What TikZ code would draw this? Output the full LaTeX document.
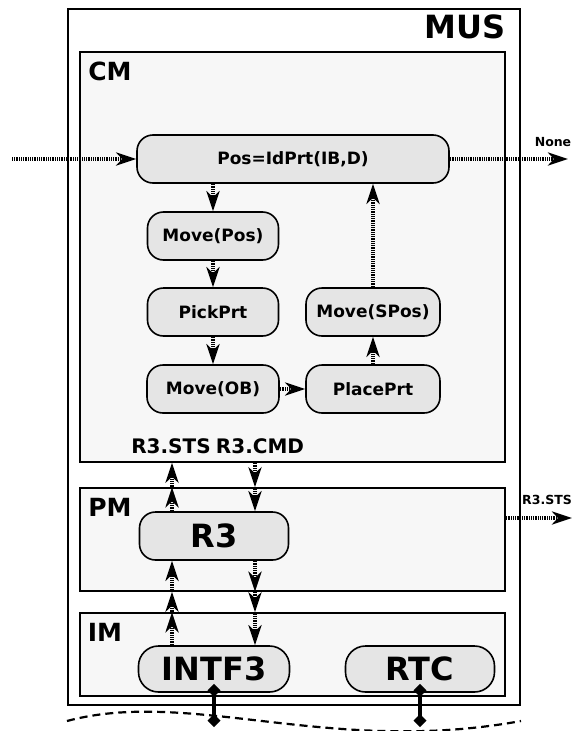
\documentclass[tikz,border=0pt]{standalone}
\usepackage{fontspec}
\setmainfont{DejaVu Sans}
\usetikzlibrary{arrows.meta,calc}
\begin{document}
\begin{tikzpicture}[x=1pt,y=-1pt,
  frame/.style={draw, line width=1.4pt, rectangle, inner sep=0pt, fill=black!3},
  proc/.style={draw, line width=1.6pt, fill=black!10, rounded corners=16pt, inner sep=0pt,
    minimum height=48pt, font=\fontsize{17}{17}\selectfont\bfseries},
  bigproc/.style={proc, rounded corners=20pt, minimum height=46pt, font=\fontsize{32}{32}\selectfont\bfseries},
  flow/.style={line width=4pt, dash pattern=on 1pt off 0.8pt,
    -{Stealth[length=20pt,width=13pt,inset=6pt]}},
  link/.style={line width=3.5pt, {Diamond[length=13pt,width=13pt]}-{Diamond[length=13pt,width=13pt]}},
  title/.style={inner sep=0pt, font=\fontsize{#1}{#1}\selectfont\bfseries},
]
\useasboundingbox (0,0) rectangle (574,731);

% frames
\node[frame, fill=white, minimum width=452pt, minimum height=696pt] (MUS) at (294,357) {};
\node[frame, minimum width=425pt, minimum height=410pt] (CM) at (292.5,257) {};
\node[frame, minimum width=425pt, minimum height=103pt] (PM) at (292.5,539.5) {};
\node[frame, minimum width=425pt, minimum height=83pt] (IM) at (292.5,654.5) {};

\node[title=32] (musl) at (465,27) {MUS};
\node[title=25] (cml) at (110,71) {CM};
\node[title=25] (pml) at (110,507) {PM};
\node[title=25] (iml) at (105,632) {IM};

% processes
\node[proc, minimum width=312pt] (pos) at (293,159) {Pos=IdPrt(IB,D)};
\node[proc, minimum width=131pt] (mpos) at (213,236) {Move(Pos)};
\node[proc, minimum width=131pt] (pick) at (213,312) {PickPrt};
\node[proc, minimum width=132pt] (mob) at (213,389) {Move(OB)};
\node[proc, minimum width=134pt] (place) at (373,389) {PlacePrt};
\node[proc, minimum width=134pt] (mspos) at (373,312) {Move(SPos)};
\node[bigproc, minimum width=149pt, minimum height=48pt, rounded corners=16pt] (r3) at (214,536) {R3};
\node[bigproc, minimum width=151pt] (intf) at (214,669) {INTF3};
\node[bigproc, minimum width=149pt] (rtc) at (420,669) {RTC};

% labels
\node[title=20] (stsl) at (171,446) {R3.STS};
\node[title=20] (cmdl) at (260,446) {R3.CMD};
\node[title=12.5] (nonel) at (553,142) {None};
\node[title=12.5] (stsout) at (547,500) {R3.STS};

% free ends
\coordinate (inL) at (12,159);
\coordinate (outR) at (568,159);
\coordinate (pmR) at (572,518);
\coordinate (sx) at (172,0);
\coordinate (cx) at (255,0);
\coordinate (w1) at (67,721);
\coordinate (w2) at (521,721);
\coordinate (d1) at (214,727);
\coordinate (d2) at (420,727);

% CM flows
\draw[flow] (inL) -- (pos.west);
\draw[flow] (pos.east) -- (outR);
\draw[flow] (mpos.north |- pos.south) -- (mpos.north);
\draw[flow] (mpos.south) -- (pick.north);
\draw[flow] (pick.south) -- (mob.north);
\draw[flow] (mob.east) -- (place.west);
\draw[flow] (place.north) -- (mspos.south);
\draw[flow] (mspos.north) -- (mspos.north |- pos.south);

% R3.STS chain
\draw[flow] (sx |- intf.north) -- (sx |- IM.north);
\draw[flow] (sx |- IM.north) -- (sx |- PM.south);
\draw[flow] (sx |- PM.south) -- (sx |- r3.south);
\draw[flow] (sx |- r3.north) -- (sx |- PM.north);
\draw[flow] (sx |- PM.north) -- (sx |- CM.south);

% R3.CMD chain
\draw[flow] (cx |- CM.south) -- (cx |- PM.north);
\draw[flow] (cx |- PM.north) -- (cx |- r3.north);
\draw[flow] (cx |- r3.south) -- (cx |- PM.south);
\draw[flow] (cx |- PM.south) -- (cx |- IM.north);
\draw[flow] (cx |- IM.north) -- (cx |- intf.north);

% output of PM
\draw[flow] (PM.east |- pmR) -- (pmR);

% environment
\draw[line width=2.2pt, dash pattern=on 8pt off 5pt] (w1) .. controls (190,688) and (330,756) .. (w2);
\draw[link] ($(intf.south)+(0,-9)$) -- (d1);
\draw[link] ($(rtc.south)+(0,-9)$) -- (d2);
\end{tikzpicture}
\end{document}
